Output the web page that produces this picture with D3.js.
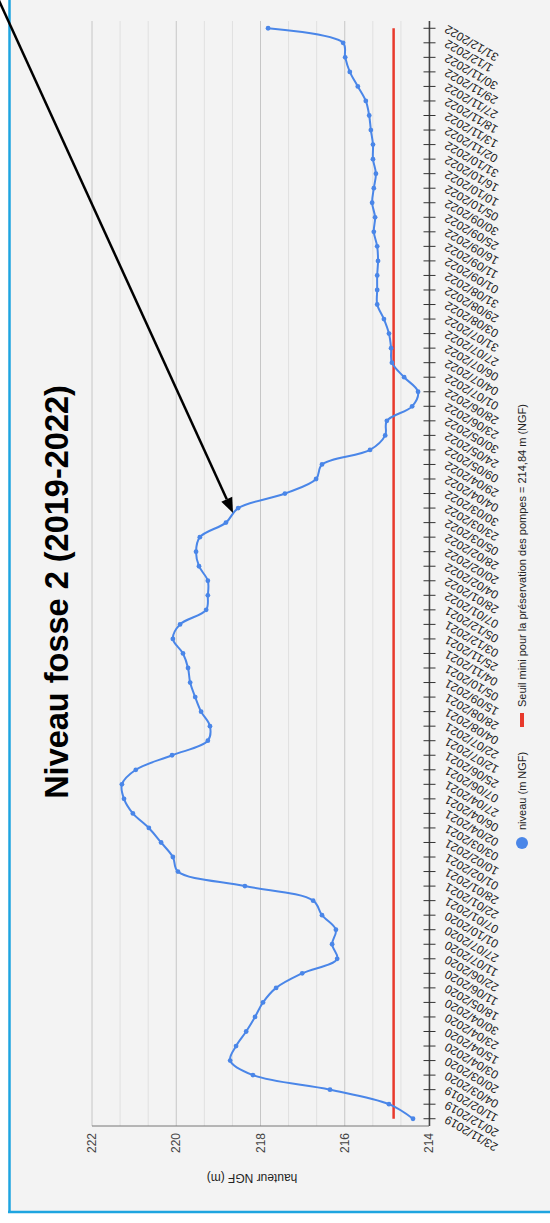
<!DOCTYPE html>
<html><head><meta charset="utf-8">
<script src="https://cdn.jsdelivr.net/npm/d3@7"></script>
<style>html,body{margin:0;padding:0;background:#fff;} svg{display:block;font-family:"Liberation Sans",Arial,sans-serif;}</style>
</head><body>
<svg id="c" width="550" height="1223"></svg>
<script>
const categories = ["23/11/2019","20/12/2019","11/02/2019","04/03/2020","20/03/2020","03/04/2020","15/04/2020","23/04/2020","30/04/2020","18/05/2020","11/06/2020","22/06/2020","11/07/2020","27/07/2020","01/10/2020","07/01/2021","22/01/2021","28/01/2021","01/02/2021","10/02/2021","03/03/2021","02/04/2021","06/04/2021","27/04/2021","07/06/2021","25/06/2021","12/07/2021","22/07/2021","04/08/2021","28/08/2021","15/09/2021","05/10/2021","04/11/2021","25/11/2021","03/12/2021","05/12/2021","07/01/2022","28/01/2022","04/02/2022","20/02/2022","28/02/2022","05/03/2022","23/03/2022","30/03/2022","04/04/2022","29/04/2022","09/05/2022","24/05/2022","30/05/2022","23/06/2022","28/06/2022","01/07/2022","04/07/2022","06/07/2022","27/07/2022","31/07/2022","03/08/2022","29/08/2022","31/08/2022","01/09/2022","11/09/2022","16/09/2022","25/09/2022","30/09/2022","05/10/2022","10/10/2022","16/10/2022","31/10/2022","02/11/2022","13/11/2022","18/11/2022","27/11/2022","29/11/2022","30/11/2022","1/12/2022","31/12/2022"];
const niveau = [214.38,214.95,216.35,218.18,218.72,218.58,218.34,218.13,217.94,217.63,217.01,216.18,216.30,216.21,216.54,216.75,218.37,219.96,220.08,220.36,220.65,221.03,221.24,221.29,220.96,220.10,219.25,219.20,219.41,219.55,219.67,219.72,219.84,220.08,219.91,219.29,219.25,219.25,219.46,219.53,219.44,218.82,218.53,217.42,216.68,216.54,215.40,215.04,215.00,214.40,214.26,214.59,214.88,214.90,214.95,215.07,215.23,215.23,215.23,215.21,215.23,215.31,215.28,215.35,215.31,215.26,215.33,215.33,215.38,215.42,215.50,215.69,215.88,215.99,216.04,217.82];
const seuil = 214.84;
const valueTicks = [214,216,218,220,222];
const titleText = "Niveau fosse 2 (2019-2022)";
const axisTitle = "hauteur NGF (m)";
const legendLabels = ["niveau (m NGF)", "Seuil mini pour la préservation des pompes = 214,84 m (NGF)"];

const svg = d3.select("#c");
svg.append("rect").attr("x",0).attr("y",0).attr("width",550).attr("height",1223).attr("fill","#fff");
svg.append("rect").attr("x",10).attr("y",0).attr("width",540).attr("height",1212).attr("fill","#f3f3f3");

const W = 1223;
const g = svg.append("g").attr("transform", `translate(0,${W}) rotate(-90)`);
const X0 = 97, X1 = 1202;
const x = d3.scalePoint().domain(categories).range([X0, X1]).padding(0.5);
const y = d3.scaleLinear().domain([214, 222]).range([429, 92]);

// minor gridlines
const minor = d3.range(0, 13).map(k => 214 + k * 2 / 3).filter(v => !valueTicks.some(t => Math.abs(t - v) < 1e-6));
g.selectAll(".minor").data(minor).enter().append("line")
  .attr("x1", X0).attr("x2", X1).attr("y1", d => y(d)).attr("y2", d => y(d))
  .attr("stroke", "#e0e0e0").attr("stroke-width", 1);
g.selectAll(".major").data(valueTicks).enter().append("line")
  .attr("x1", X0).attr("x2", X1).attr("y1", d => y(d)).attr("y2", d => y(d))
  .attr("stroke", "#c6c6c6").attr("stroke-width", 1);
// left edge of chart area
g.append("line").attr("x1", X0).attr("x2", X0).attr("y1", y(222)).attr("y2", y(214))
  .attr("stroke", "#777").attr("stroke-width", 1);

// value labels
g.selectAll(".vl").data(valueTicks).enter().append("text")
  .attr("x", X0 - 7).attr("y", d => y(d)).attr("dy", "0.35em")
  .attr("text-anchor", "end").attr("font-size", 12).attr("fill", "#444")
  .text(d => d);
// axis title
g.append("text").attr("transform", `translate(45,252) rotate(-90)`)
  .attr("text-anchor", "middle").attr("dy", "0.35em").attr("font-size", 12).attr("fill", "#222")
  .text(axisTitle);

// category axis
const axY = y(214) + 0.5;
g.append("line").attr("x1", X0).attr("x2", X1).attr("y1", axY).attr("y2", axY)
  .attr("stroke", "#444").attr("stroke-width", 1.5);
g.selectAll(".tk").data(categories).enter().append("line")
  .attr("x1", d => x(d)).attr("x2", d => x(d)).attr("y1", axY - 6).attr("y2", axY + 6)
  .attr("stroke", "#333").attr("stroke-width", 1);
g.selectAll(".cl").data(categories).enter().append("text")
  .attr("transform", d => `translate(${x(d)},${axY + 16}) rotate(-60)`)
  .attr("text-anchor", "end").attr("dy", "0.35em").attr("font-size", 12).attr("fill", "#222")
  .text(d => d);

// threshold
g.append("line").attr("x1", x(categories[0])).attr("x2", x(categories[categories.length - 1]))
  .attr("y1", y(seuil)).attr("y2", y(seuil)).attr("stroke", "#e8392c").attr("stroke-width", 2.5);

// series
const data = categories.map((c, i) => ({ c, v: niveau[i] }));
const line = d3.line().x(d => x(d.c)).y(d => y(d.v)).curve(d3.curveCatmullRom.alpha(0.5));
g.append("path").datum(data).attr("d", line).attr("fill", "none")
  .attr("stroke", "#4a86e8").attr("stroke-width", 2);
g.selectAll(".pt").data(data).enter().append("circle")
  .attr("cx", d => x(d.c)).attr("cy", d => y(d.v)).attr("r", 2.4).attr("fill", "#4a86e8");

// title
g.append("text").attr("x", 631).attr("y", 68).attr("text-anchor", "middle")
  .attr("font-size", 32.5).attr("font-weight", "bold").attr("fill", "#000").text(titleText);

// legend
g.append("circle").attr("cx", 380).attr("cy", 522).attr("r", 6).attr("fill", "#4a86e8");
g.append("text").attr("x", 393).attr("y", 522).attr("dy", "0.35em").attr("font-size", 11).attr("fill", "#222").text(legendLabels[0]);
g.append("rect").attr("x", 496).attr("y", 520).attr("width", 14).attr("height", 4).attr("fill", "#e8392c");
g.append("text").attr("x", 516).attr("y", 522).attr("dy", "0.35em").attr("font-size", 11).attr("fill", "#222").text(legendLabels[1]);

// frame
svg.append("line").attr("x1", 9.5).attr("x2", 9.5).attr("y1", 0).attr("y2", 1213).attr("stroke", "#1ea5e0").attr("stroke-width", 2.5);
svg.append("line").attr("x1", 8).attr("x2", 550).attr("y1", 1212).attr("y2", 1212).attr("stroke", "#1ea5e0").attr("stroke-width", 2.5);

// arrow
const ax0 = -4, ay0 = -6, ax1 = 233, ay1 = 513;
const ang = Math.atan2(ay1 - ay0, ax1 - ax0);
const hl = 15, hw = 6;
const bx = ax1 - hl * Math.cos(ang), by = ay1 - hl * Math.sin(ang);
svg.append("line").attr("x1", ax0).attr("y1", ay0).attr("x2", bx).attr("y2", by)
  .attr("stroke", "#000").attr("stroke-width", 2.5);
svg.append("path").attr("d", `M${ax1},${ay1} L${bx + hw * Math.sin(ang)},${by - hw * Math.cos(ang)} L${bx - hw * Math.sin(ang)},${by + hw * Math.cos(ang)} Z`)
  .attr("fill", "#000");
</script>
</body></html>
